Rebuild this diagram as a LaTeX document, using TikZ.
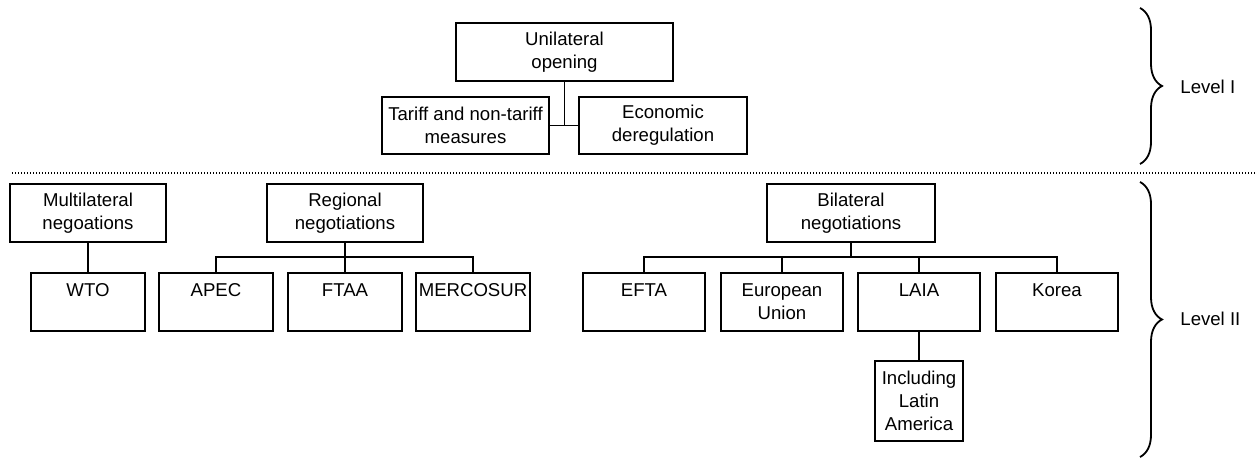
\documentclass[tikz,border=0pt]{standalone}
\usepackage{fontspec}
\setmainfont{Liberation Sans}
\usepackage{tikz}
\usetikzlibrary{
    calc,
    decorations.pathreplacing
}

\begin{document}
\begin{tikzpicture}[x=0.5pt, y=-0.5pt,
        every node/.style={font=\fontsize{9.3pt}{11.5pt}\selectfont},
        box/.style={draw, line width=0.65pt, inner sep=0pt, align=center, minimum height=29pt},
        onebox/.style={box, text height=11.75pt, text depth=17.25pt},
        link/.style={line width=0.65pt},
        levelbrace/.style={line width=0.9pt, decorate, decoration={brace, amplitude=11pt}}]
        \useasboundingbox (0,0) rectangle (1256,458);

        % Level I: unilateral opening
        \node[box, minimum width=108.5pt] (uni) at (564.5,52) {Unilateral\\opening};
        \node[box, minimum width=83.5pt, minimum height=28.5pt] (tariff) at (465.5,125.5) {Tariff and non-tariff\\measures};
        \node[box, minimum width=84pt, minimum height=28.5pt] (econ) at (663,125.5) {Economic\\deregulation};
        \draw[link] (tariff.east) -- (econ.west);
        \draw[link] (uni.south) -- (uni.south |- tariff.east);

        % Separation between the two levels
        \draw[line width=0.7pt, dash pattern=on 0.7pt off 0.8pt] (12,173) -- (1256,173);

        % Level II: negotiation headers
        \node[box, minimum width=78pt] (multi) at (88,213) {Multilateral\\negoations};
        \node[box, minimum width=78pt] (regional) at (345,213) {Regional\\negotiations};
        \node[box, minimum width=84pt] (bilateral) at (851,213) {Bilateral\\negotiations};

        % Agreements
        \node[onebox, minimum width=57pt] (wto) at (88,302) {WTO};
        \node[onebox, minimum width=57pt] (apec) at (216,302) {APEC};
        \node[onebox, minimum width=57pt] (ftaa) at (345,302) {FTAA};
        \node[onebox, minimum width=57pt] (mercosur) at (473,302) {MERCOSUR};
        \node[onebox, minimum width=61pt] (efta) at (644,302) {EFTA};
        \node[box, minimum width=61pt] (eu) at (782,302) {European\\Union};
        \node[onebox, minimum width=61pt] (laia) at (919,302) {LAIA};
        \node[onebox, minimum width=61pt] (korea) at (1057,302) {Korea};
        \node[box, minimum width=44pt, minimum height=40pt] (latin) at (919,401) {Including\\Latin\\America};

        % Connectors
        \coordinate (rbus) at (345,257);
        \coordinate (bbus) at (851,257);
        \draw[link] (multi.south) -- (wto.north);
        \draw[link] (regional.south) -- (rbus) -- (ftaa.north);
        \draw[link] (apec.north) -- (apec.north |- rbus) -- (mercosur.north |- rbus) -- (mercosur.north);
        \draw[link] (bilateral.south) -- (bbus);
        \draw[link] (efta.north) -- (efta.north |- bbus) -- (korea.north |- bbus) -- (korea.north);
        \draw[link] (eu.north) -- (eu.north |- bbus);
        \draw[link] (laia.north) -- (laia.north |- bbus);
        \draw[link] (laia.south) -- (latin.north);

        % Braces and levels
        \coordinate (b1top) at (1140,8);
        \coordinate (b1bot) at (1140,164);
        \coordinate (b2top) at (1140,182);
        \coordinate (b2bot) at (1140,457);
        \draw[levelbrace] (b1top) -- (b1bot);
        \draw[levelbrace] (b2top) -- (b2bot);
        \node[anchor=west, inner sep=0pt] (lvl1) at (1180,87) {Level I};
        \node[anchor=west, inner sep=0pt] (lvl2) at (1180,319) {Level II};
    \end{tikzpicture}
\end{document}
